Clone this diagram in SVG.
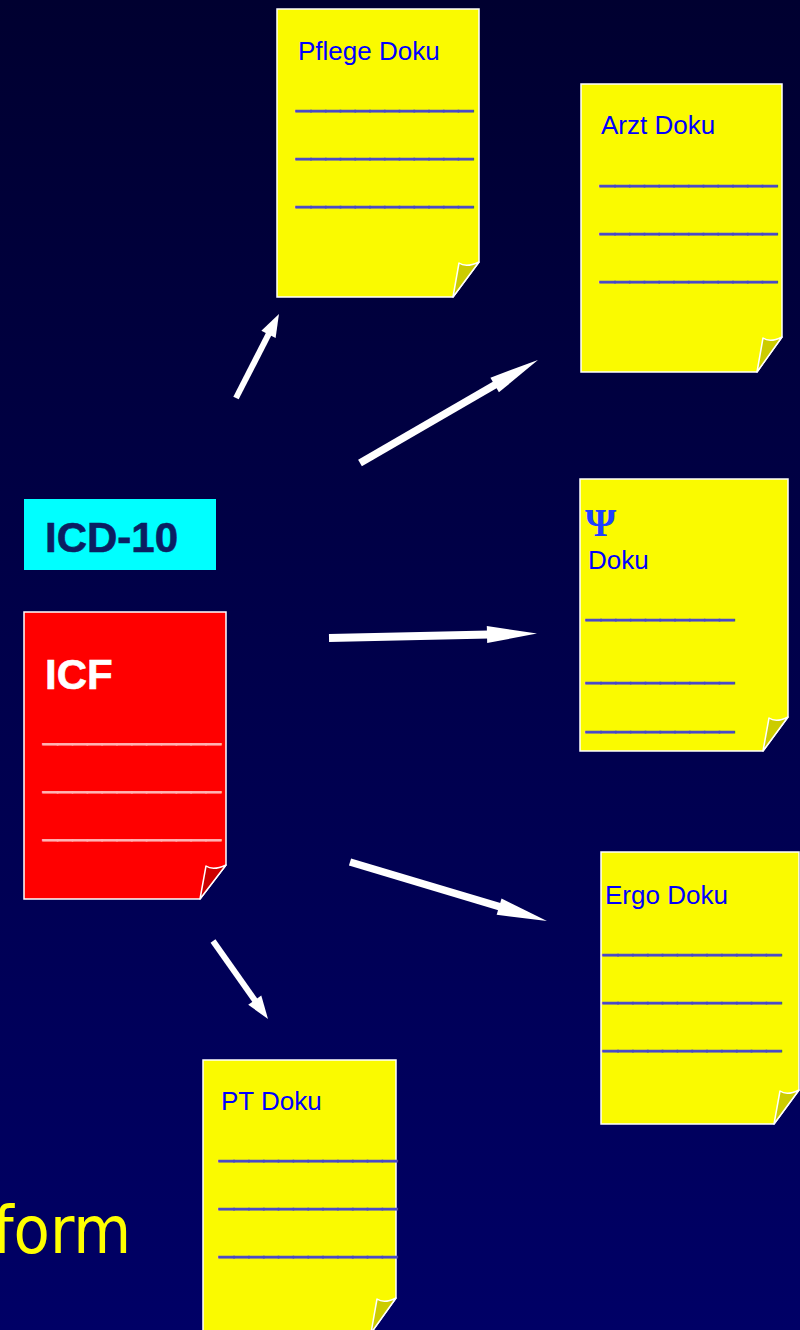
<svg xmlns="http://www.w3.org/2000/svg" width="800" height="1330" viewBox="0 0 800 1330">
<defs>
<linearGradient id="bg" x1="0" y1="0" x2="0" y2="1">
<stop offset="0" stop-color="#000030"/>
<stop offset="1" stop-color="#000066"/>
</linearGradient>
<marker id="hL" viewBox="-52 -9 53 18" refX="-48" refY="0" markerWidth="53" markerHeight="18" orient="auto" markerUnits="userSpaceOnUse"><path d="M0,0 L-50,-8.5 L-50,8.5 Z" fill="#ffffff"/></marker>
<marker id="hS" viewBox="-25 -9 26 18" refX="-21" refY="0" markerWidth="26" markerHeight="18" orient="auto" markerUnits="userSpaceOnUse"><path d="M0,0 L-23,-8 L-23,8 Z" fill="#ffffff"/></marker>
<style>
.page{fill:#fafa00;stroke:#ffffff;stroke-width:1.5}
.fold{fill:#cccc00;stroke:#ffffff;stroke-width:1.5;stroke-linejoin:round}
.rpage{fill:#ff0000;stroke:#ffffff;stroke-width:1.5}
.rfold{fill:#cc0000;stroke:#ffffff;stroke-width:1.5;stroke-linejoin:round}
.lbl{font-family:"Liberation Sans",Arial,sans-serif;font-size:26px;fill:#0000ff}
.ul{font-family:"Liberation Sans",Arial,sans-serif;font-size:26px;fill:#4848c8;stroke:#4848c8;stroke-width:1}
.rul{font-family:"Liberation Sans",Arial,sans-serif;font-size:26px;fill:#ffb4b4;stroke:#ffb4b4;stroke-width:0.8}
.big{font-family:"Liberation Sans",Arial,sans-serif;font-size:42px;font-weight:bold}
.arr{stroke:#ffffff;fill:none}
</style>
</defs>
<rect x="0" y="0" width="800" height="1330" fill="url(#bg)"/>

<text x="131" y="1253" text-anchor="end" font-family="'DejaVu Sans Condensed','DejaVu Sans',sans-serif" font-size="66" fill="#ffff00">form</text>

<g id="pflege">
<polygon class="page" points="277,9 479,9 479,262 453,297 277,297"/>
<path class="fold" d="M453,297 L459,263 Q466,268 479,262 Z"/>
<text class="lbl" x="298" y="60">Pflege Doku</text>
<text class="ul" x="296" y="107" textLength="177" lengthAdjust="spacingAndGlyphs">____________</text>
<text class="ul" x="296" y="155" textLength="177" lengthAdjust="spacingAndGlyphs">____________</text>
<text class="ul" x="296" y="203" textLength="177" lengthAdjust="spacingAndGlyphs">____________</text>
</g>

<g id="arzt">
<polygon class="page" points="581,84 782,84 782,337 757,372 581,372"/>
<path class="fold" d="M757,372 L763,338 Q770,343 782,337 Z"/>
<text class="lbl" x="601" y="134">Arzt Doku</text>
<text class="ul" x="600" y="182" textLength="177" lengthAdjust="spacingAndGlyphs">____________</text>
<text class="ul" x="600" y="230" textLength="177" lengthAdjust="spacingAndGlyphs">____________</text>
<text class="ul" x="600" y="278" textLength="177" lengthAdjust="spacingAndGlyphs">____________</text>
</g>

<g id="psi">
<polygon class="page" points="580,479 788,479 788,717 763,751 580,751"/>
<path class="fold" d="M763,751 L769,718 Q776,723 788,717 Z"/>
<text x="585" y="536" font-family="'Liberation Serif','Times New Roman',serif" font-size="40" font-weight="bold" fill="#1f3fff">Ψ</text>
<text class="lbl" x="588" y="569">Doku</text>
<text class="ul" x="586" y="616" textLength="148" lengthAdjust="spacingAndGlyphs">__________</text>
<text class="ul" x="586" y="679" textLength="148" lengthAdjust="spacingAndGlyphs">__________</text>
<text class="ul" x="586" y="728" textLength="148" lengthAdjust="spacingAndGlyphs">__________</text>
</g>

<g id="ergo">
<polygon class="page" points="601,852 799,852 799,1090 774,1124 601,1124"/>
<path class="fold" d="M774,1124 L780,1091 Q787,1096 799,1090 Z"/>
<text class="lbl" x="605" y="904">Ergo Doku</text>
<text class="ul" x="603" y="951" textLength="178" lengthAdjust="spacingAndGlyphs">____________</text>
<text class="ul" x="603" y="999" textLength="178" lengthAdjust="spacingAndGlyphs">____________</text>
<text class="ul" x="603" y="1047" textLength="178" lengthAdjust="spacingAndGlyphs">____________</text>
</g>

<g id="pt">
<polygon class="page" points="203,1060 396,1060 396,1298 371,1333 203,1333"/>
<path class="fold" d="M371,1333 L377,1299 Q384,1304 396,1298 Z"/>
<text class="lbl" x="221" y="1110">PT Doku</text>
<text class="ul" x="219" y="1157" textLength="178" lengthAdjust="spacingAndGlyphs">____________</text>
<text class="ul" x="219" y="1205" textLength="178" lengthAdjust="spacingAndGlyphs">____________</text>
<text class="ul" x="219" y="1253" textLength="178" lengthAdjust="spacingAndGlyphs">____________</text>
</g>

<g id="icd10">
<rect x="24" y="499" width="192" height="71" fill="#00ffff"/>
<text class="big" x="45" y="552" fill="#0b1f62" stroke="#0b1f62" stroke-width="0.6">ICD-10</text>
</g>

<g id="icf">
<polygon class="rpage" points="24,612 226,612 226,865 200,899 24,899"/>
<path class="rfold" d="M200,899 L206,866 Q213,871 226,865 Z"/>
<text class="big" x="45" y="689" fill="#ffffff" stroke="#ffffff" stroke-width="0.6">ICF</text>
<text class="rul" x="43" y="740" textLength="178" lengthAdjust="spacingAndGlyphs">____________</text>
<text class="rul" x="43" y="788" textLength="178" lengthAdjust="spacingAndGlyphs">____________</text>
<text class="rul" x="43" y="836" textLength="178" lengthAdjust="spacingAndGlyphs">____________</text>
</g>

<g id="connectors">
<line class="arr" x1="236" y1="398" x2="269.4" y2="332.7" stroke-width="6" marker-end="url(#hS)"/>
<line class="arr" x1="360" y1="463" x2="496.4" y2="384.0" stroke-width="7.5" marker-end="url(#hL)"/>
<line class="arr" x1="329" y1="638" x2="489.0" y2="634.5" stroke-width="8" marker-end="url(#hL)"/>
<line class="arr" x1="350" y1="862" x2="501.0" y2="907.2" stroke-width="7.5" marker-end="url(#hL)"/>
<line class="arr" x1="213" y1="941" x2="255.9" y2="1001.8" stroke-width="6" marker-end="url(#hS)"/>
</g>
</svg>
